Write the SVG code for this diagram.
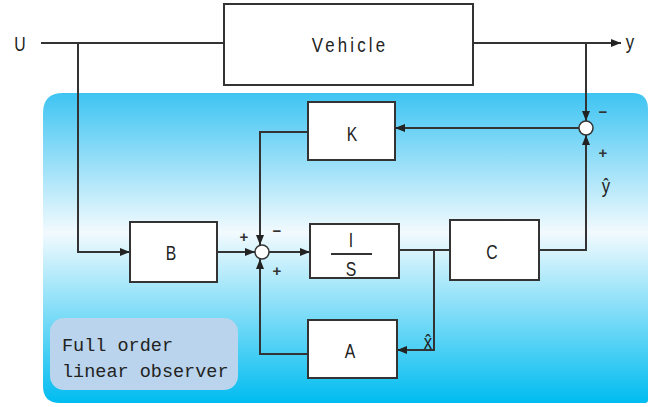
<svg xmlns="http://www.w3.org/2000/svg" width="649" height="407" viewBox="0 0 649 407">
<defs>
<linearGradient id="bg" x1="0" y1="0" x2="0" y2="1">
<stop offset="0" stop-color="#3EC4F2"/>
<stop offset="0.45" stop-color="#F2FAFE"/>
<stop offset="1" stop-color="#00BCF0"/>
</linearGradient>
<marker id="ah" viewBox="0 0 10 10" refX="10" refY="5" markerWidth="10" markerHeight="10" markerUnits="userSpaceOnUse" orient="auto">
<path d="M0,1 L10,5 L0,9 Z" fill="#222"/>
</marker>
<style>
.box{fill:#fff;stroke:#333;stroke-width:2}
.ln{fill:none;stroke:#333;stroke-width:2}
.ar{fill:none;stroke:#333;stroke-width:2;marker-end:url(#ah)}
.t{font-family:"Liberation Sans",Arial,sans-serif;font-size:21px;fill:#222;text-anchor:middle}
.s{font-family:"Liberation Sans",Arial,sans-serif;font-size:15px;font-weight:bold;fill:#333;text-anchor:middle}
.m{font-family:"Liberation Mono","DejaVu Sans Mono",monospace;font-size:18.5px;fill:#222}
.sum{fill:#fff;stroke:#333;stroke-width:1.5}
</style>
</defs>
<path d="M63,93 H632 Q648,93 648,109 V400 Q648,403 645,403 H60 Q43,403 43,386 V113 Q43,93 63,93 Z" fill="url(#bg)"/>
<g id="label">
<rect x="50" y="318" width="188" height="72" rx="14" fill="#B9D4EC"/>
<text class="m" x="62" y="351">Full order</text>
<text class="m" x="62" y="377">linear observer</text>
</g>
<g id="connectors">
<path class="ln" d="M41,43 H224"/>
<path class="ar" d="M78,43 V252 H130"/>
<path class="ar" d="M473,43 H621"/>
<path class="ar" d="M586,43 V121"/>
<path class="ar" d="M579,128 H395"/>
<path class="ar" d="M539,250 H586 V135"/>
<path class="ar" d="M217,252 H255"/>
<path class="ar" d="M308,132 H260 V245"/>
<path class="ar" d="M308,354 H260 V259"/>
<path class="ar" d="M269,252 H310"/>
<path class="ln" d="M399,250 H450"/>
<path class="ar" d="M434,250 V350 H397"/>
</g>
<g id="U"><text class="t" transform="translate(20,51) scale(0.75,1)" x="0" y="0">U</text></g>
<g id="y"><text class="t" transform="translate(630,49) scale(0.8,1)" x="0" y="0">y</text></g>
<g id="vehicle">
<rect class="box" x="224" y="4" width="249" height="81"/>
<text class="t" transform="translate(350,52) scale(0.8,1)" x="0" y="0" style="letter-spacing:4px">Vehicle</text>
</g>
<g id="K">
<rect class="box" x="308" y="102" width="87" height="58"/>
<text class="t" transform="translate(352,141) scale(0.75,1)" x="0" y="0">K</text>
</g>
<g id="B">
<rect class="box" x="130" y="222" width="87" height="60"/>
<text class="t" transform="translate(171,260) scale(0.75,1)" x="0" y="0">B</text>
</g>
<g id="IS">
<rect class="box" x="310" y="224" width="89" height="54"/>
<text class="t" transform="translate(351,247) scale(0.75,1)" x="0" y="0">I</text>
<path d="M331,254 H372" stroke="#333" stroke-width="2"/>
<text class="t" transform="translate(351,276) scale(0.75,1)" x="0" y="0">S</text>
</g>
<g id="C">
<rect class="box" x="450" y="220" width="89" height="60"/>
<text class="t" transform="translate(492,259) scale(0.75,1)" x="0" y="0">C</text>
</g>
<g id="A">
<rect class="box" x="308" y="320" width="89" height="58"/>
<text class="t" transform="translate(350,358) scale(0.75,1)" x="0" y="0">A</text>
</g>
<g id="sum1">
<circle class="sum" cx="262" cy="252" r="7"/>
<text class="s" x="244" y="242">+</text>
<text class="s" x="277" y="236">−</text>
<text class="s" x="277" y="276">+</text>
</g>
<g id="sum2">
<circle class="sum" cx="586" cy="128" r="7"/>
<text class="s" x="603" y="117">−</text>
<text class="s" x="603" y="158">+</text>
</g>
<g id="yhat"><text class="t" transform="translate(606,193) scale(0.8,1)" x="0" y="0">ŷ</text></g>
<g id="xhat"><text class="t" transform="translate(428,349) scale(0.8,1)" x="0" y="0">x̂</text></g>
</svg>
